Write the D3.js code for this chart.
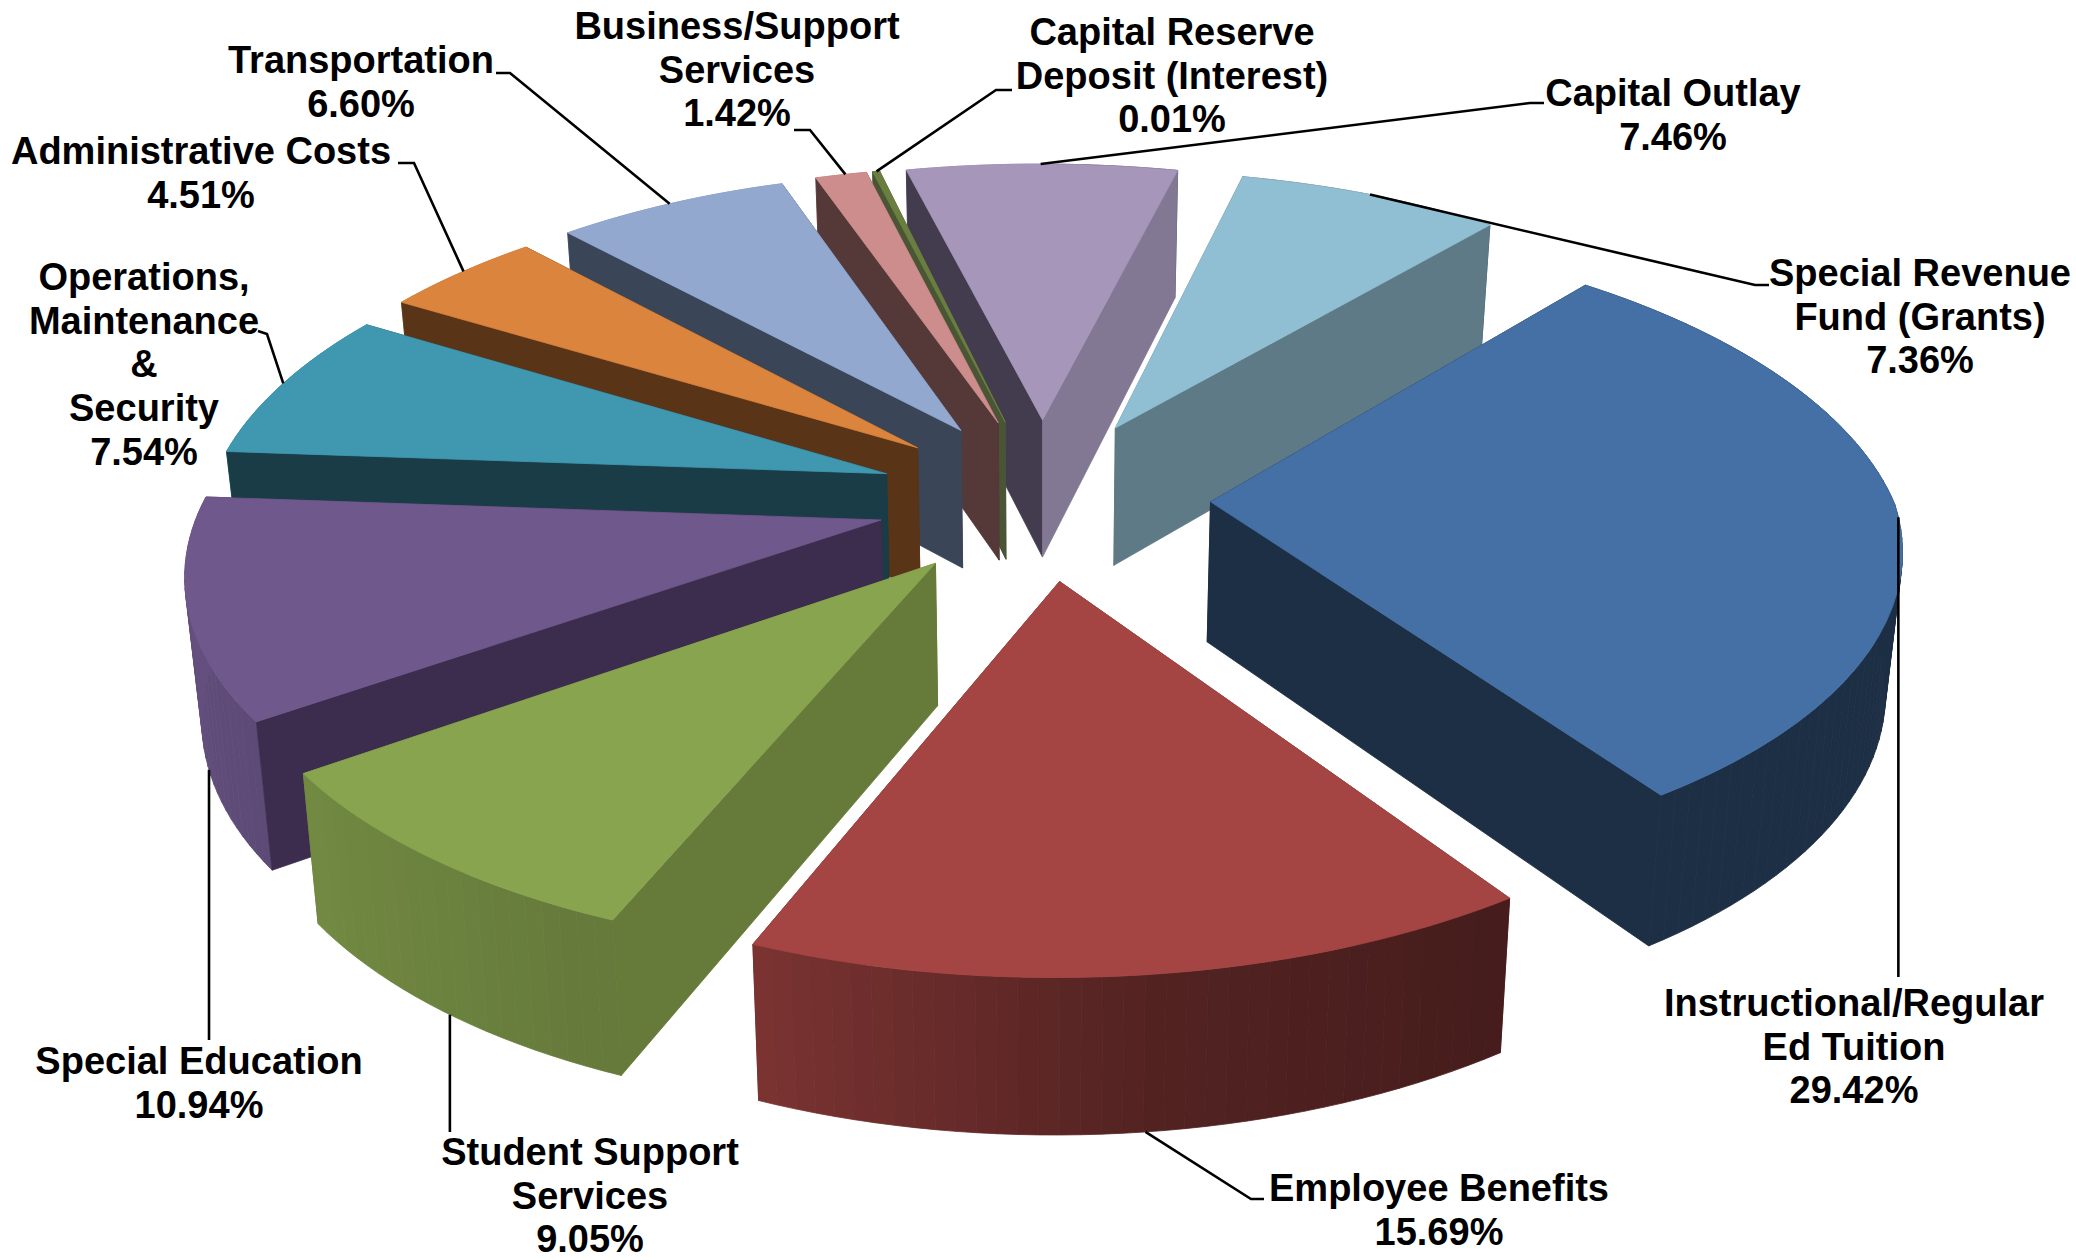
<!DOCTYPE html>
<head>
  <meta charset="UTF-8">
  <title>Expenditures</title>
  <style>
  body, html, svg{
    padding: 0;
    margin: 0;
    background: #fff;
    overflow: hidden;
  }
  svg{
    display: block;
  }
  text{
    font-family: "Liberation Sans", Arial, sans-serif;
    font-weight: bold;
    font-size: 38px;
    fill: #000;
    text-anchor: middle;
  }
  </style>
</head>
<body>
  <script src="https://cdnjs.cloudflare.com/ajax/libs/d3/7.8.5/d3.min.js"></script>
  <script type="text/javascript">
  // values
  var categories = [
    ['Instructional/Regular', 'Ed Tuition'],
    ['Employee Benefits'],
    ['Student Support', 'Services'],
    ['Special Education'],
    ['Operations,', 'Maintenance', '&', 'Security'],
    ['Administrative Costs'],
    ['Transportation'],
    ['Business/Support', 'Services'],
    ['Capital Reserve', 'Deposit (Interest)'],
    ['Capital Outlay'],
    ['Special Revenue', 'Fund (Grants)']
  ];
  var shares = [29.42, 15.69, 9.05, 10.94, 7.54, 4.51, 6.60, 1.42, 0.01, 7.46, 7.36];

  // colours
  var topColors = ['#4470a5', '#a54543', '#88a44f', '#6f588c', '#4097b0', '#db843d', '#92a8cf', '#cd8d8c', '#6a7f3f', '#a596ba', '#90bfd3'];
  var startFaceColors = ['#1d2f45', '#6b2c2a', '#667a39', '#3c2c4d', '#1a3c47', '#5a3416', '#3a4658', '#553938', '#4a5535', '#423c4e', '#5d7a86'];
  var endFaceColors = ['#1d2f45', '#6b2c2a', '#667a39', '#3c2c4d', '#1a3c47', '#5a3416', '#3a4658', '#553938', '#4a5535', '#827893', '#5d7a86'];

  // label layout: centre x, first baseline
  var labelPos = [[1854, 1016], [1439, 1201], [590, 1165], [199, 1074], [144, 290], [201, 164], [361, 73], [737, 39], [1172, 45], [1673, 106], [1920, 286]];
  // leaders: slice, angle on the rim (deg), on top (1) or bottom (0) of the wall, then the way to the label
  var leaders = [
    [0, 92, 1, [[null, 977]]],
    [1, 173, 0, [[1251, 1199], [1264, 1199]]],
    [2, 217, 0, [[null, 1132]]],
    [3, 251, 0, [[null, 1040]]],
    [4, 287, 1, [[267, 334], [258, 331]]],
    [5, 309, 1, [[414, 163], [398, 163]]],
    [6, 328.5, 1, [[510, 73], [496, 73]]],
    [7, 343.5, 1, [[810, 130], [794, 130]]],
    [8, 346, 1, [[996, 90], [1012, 90]]],
    [9, 359, 1, [[1530, 103], [1544, 103]]],
    [10, 25.5, 1, [[1755, 285], [1769, 285]]]
  ];

  var width = 2076, height = 1260;
  var cx = 1043, cy = 498, rx = 684, ry = 313, shear = 16, tilt = 4.4, leftSqueeze = 0.99;
  var depthX = 6, depthY = 7, wall = 140, explode = 0.245, explodeY = 1.055;
  var rad = Math.PI / 180;

  var svg = d3.select('body').append('svg')
    .attr('width', width)
    .attr('height', height);

  var pie = d3.pie().sort(null)
    .startAngle(39 * rad)
    .endAngle(39 * rad + 2 * Math.PI);

  var slices = pie(shares).map(function(d, i) {
    var mid = (d.startAngle + d.endAngle) / 2;
    return {
      i: i,
      a0: d.startAngle,
      a1: Math.max(d.endAngle, d.startAngle + 0.7 * rad),
      ox: explode * Math.sin(mid),
      oy: -explode * explodeY * Math.cos(mid)
    };
  });

  // slice plane to screen, z 1 = top of the pie, 0 = bottom
  function project(X, Y, z) {
    var s = depthX / (depthX - Y);
    var sx = Y > 0 ? Math.pow(s, 0.8) : s;
    var sy = depthY / (depthY - Y);
    var lean = Y > 0 ? 1 : Math.max(0, Math.min(1, X + 0.5));
    var x = cx + rx * (X < 0 ? leftSqueeze : 1) * X * sx - shear * Y * lean;
    var y = cy + ry * Y * sy + tilt * X;
    if (!z) {
      x = cx + (x - cx) * 0.98;
      y += wall * Math.sqrt(s);
    }
    return [x, y];
  }
  function rimPoint(sl, a, z) {
    return project(sl.ox + Math.sin(a), sl.oy - Math.cos(a), z);
  }
  function apex(sl, z) {
    return project(sl.ox, sl.oy, z);
  }

  // wall gets lighter going round the left
  var shade = d3.scaleLinear()
    .domain([0, 145, 173, 201, 234, 262, 360])
    .range([0.42, 0.42, 0.5, 0.74, 0.84, 0.9, 0.9])
    .clamp(true);
  function wallColor(i, a) {
    var deg = ((a / rad) % 360 + 360) % 360;
    var c = d3.rgb(topColors[i]), k = shade(deg);
    return d3.rgb(c.r * k, c.g * k, c.b * k).formatHex();
  }

  var line = d3.line();
  function poly(pts, color) {
    svg.append('path')
      .attr('d', line(pts) + 'Z')
      .attr('fill', color)
      .attr('stroke', color)
      .attr('stroke-width', 0.8);
  }

  // back to front
  var order = slices.slice().sort(function(a, b) {
    return (-Math.cos((a.a0 + a.a1) / 2)) - (-Math.cos((b.a0 + b.a1) / 2));
  });

  order.forEach(function(sl) {
    var i = sl.i;
    var startQuad = [apex(sl, 1), rimPoint(sl, sl.a0, 1), rimPoint(sl, sl.a0, 0), apex(sl, 0)];
    var endQuad = [apex(sl, 1), rimPoint(sl, sl.a1, 1), rimPoint(sl, sl.a1, 0), apex(sl, 0)];
    var startFront = d3.polygonArea(startQuad) > 0;
    var endFront = d3.polygonArea(endQuad) < 0;

    if (!startFront) poly(startQuad, startFaceColors[i]);
    if (!endFront) poly(endQuad, endFaceColors[i]);

    // outer wall in thin strips
    var n = Math.max(1, Math.ceil((sl.a1 - sl.a0) / (1.5 * rad)));
    d3.range(n).forEach(function(k) {
      var a = sl.a0 + (sl.a1 - sl.a0) * k / n;
      var b = sl.a0 + (sl.a1 - sl.a0) * (k + 1) / n;
      poly([rimPoint(sl, a, 1), rimPoint(sl, b, 1), rimPoint(sl, b, 0), rimPoint(sl, a, 0)], wallColor(i, (a + b) / 2));
    });

    if (startFront) poly(startQuad, startFaceColors[i]);
    if (endFront) poly(endQuad, endFaceColors[i]);

    var pts = [apex(sl, 1)];
    d3.range(0, 41).forEach(function(k) {
      pts.push(rimPoint(sl, sl.a0 + (sl.a1 - sl.a0) * k / 40, 1));
    });
    poly(pts, topColors[i]);
  });

  // leader lines
  leaders.forEach(function(l) {
    var p = rimPoint(slices[l[0]], l[1] * rad, l[2]);
    var pts = [p].concat(l[3].map(function(q) {
      return [q[0] === null ? p[0] : q[0], q[1]];
    }));
    svg.append('path')
      .attr('d', line(pts))
      .attr('fill', 'none')
      .attr('stroke', '#000')
      .attr('stroke-width', 2.6);
  });

  // labels
  categories.forEach(function(lines, i) {
    var t = svg.append('text')
      .attr('x', labelPos[i][0])
      .attr('y', labelPos[i][1]);
    lines.concat([shares[i].toFixed(2) + '%']).forEach(function(s, k) {
      t.append('tspan')
        .attr('x', labelPos[i][0])
        .attr('dy', k ? 43.7 : 0)
        .text(s);
    });
  });
  </script>
</body>
</html>
